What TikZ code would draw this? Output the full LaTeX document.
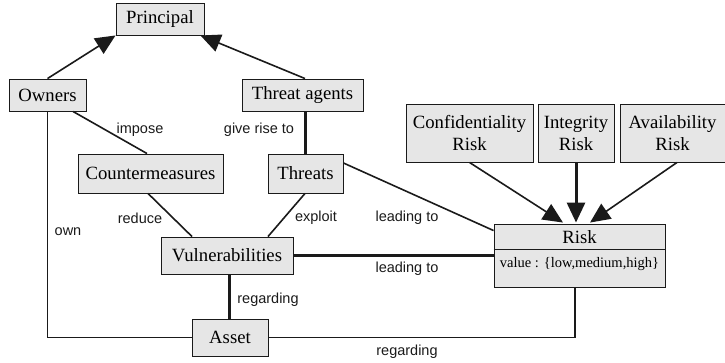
\documentclass[tikz,border=0pt]{standalone}
\usepackage{fontspec}
\setmainfont{Liberation Serif}
\newfontfamily\entfont{Liberation Serif}
\newfontfamily\labfont{Liberation Sans}
\usetikzlibrary{arrows.meta,calc}
\definecolor{boxfill}{HTML}{E6E6E6}
\definecolor{ink}{HTML}{1A1A1A}
\tikzset{
  ent/.style={draw=ink,fill=boxfill,line width=0.9pt,inner sep=0pt,align=center,
    font=\entfont\fontsize{18.7}{22}\selectfont},
  lab/.style={font=\labfont\fontsize{14.5}{16}\selectfont,inner sep=0pt,text=ink},
  conn/.style={draw=ink,line width=1.6pt},
  thick conn/.style={draw=ink,line width=3pt},
  tip/.style={-{Triangle[length=20pt,width=18pt]}}
}
\begin{document}
\begin{tikzpicture}[x=1pt,y=-1pt]
\useasboundingbox (0,0) rectangle (725,363);
% entities
\node[ent,minimum width=88pt,minimum height=32pt] (principal) at (160,19) {Principal};
\node[ent,minimum width=77pt,minimum height=32pt] (owners) at (47.5,95) {Owners};
\node[ent,minimum width=121pt,minimum height=32pt] (tagents) at (302.5,95) {Threat agents};
\node[ent,minimum width=145pt,minimum height=39pt] (counter) at (150.5,173.5) {Countermeasures};
\node[ent,minimum width=75pt,minimum height=39pt] (threats) at (305.5,173.5) {Threats};
\node[ent,minimum width=132pt,minimum height=37pt] (vulns) at (227,255.5) {Vulnerabilities};
\node[ent,minimum width=76pt,minimum height=37pt] (asset) at (230,337.5) {Asset};
\node[ent,minimum width=127pt,minimum height=58pt] (conf) at (469.5,133) {Confidentiality\\Risk};
\node[ent,minimum width=76pt,minimum height=58pt] (integ) at (576,133) {Integrity\\Risk};
\node[ent,minimum width=105pt,minimum height=58pt] (avail) at (672.5,133) {Availability\\Risk};
\node[ent,minimum width=171pt,minimum height=63pt] (risk) at (579.5,255.5) {};
\draw[draw=ink,line width=0.9pt] (risk.west |- 0,249) -- (risk.east |- 0,249);
\node[font=\entfont\fontsize{18.7}{22}\selectfont,inner sep=0pt] (risktitle) at (579.5,237) {Risk};
\node[font=\entfont\fontsize{14.5}{16}\selectfont,inner sep=0pt] (riskvalue) at (579.5,264) {value : \{low,medium,high\}};
% connectors to principal
\draw[conn,tip] (owners.north) -- (principal.south west);
\draw[conn,tip] ($(tagents.north)+(2.5,0)$) -- ($(principal.south east)+(-4,0)$);
% middle connectors
\draw[conn] ($(owners.south)+(25.5,0)$) -- ($(counter.north)+(-3.5,0)$);
\draw[thick conn] ($(tagents.south)+(2.5,0)$) -- ($(threats.north)+(-0.5,0)$);
\draw[conn] ($(counter.south)+(-2.5,0)$) -- ($(vulns.north)+(-35,0)$);
\draw[conn] ($(threats.south)+(-0.5,0)$) -- ($(vulns.north)+(41,0)$);
\draw[thick conn] ($(vulns.south)+(2,0)$) -- ($(asset.north)+(-1,0)$);
\draw[conn] (owners.south) -- (owners.south |- asset.west) -- (asset.west);
\coordinate (rbot) at (575,287);
\draw[conn] (asset.east) -- (rbot |- asset.east) -- (rbot);
\draw[thick conn] (vulns.east) -- (risk.west);
\draw[conn] ($(threats.east)+(0,-10.5)$) -- ($(risk.north west)+(0,7)$);
% risk arrows
\draw[conn,tip] (conf.south) -- ($(risk.north)+(-16.5,-1)$);
\draw[thick conn,tip] (integ.south) -- ($(risk.north)+(-3.5,-1)$);
\draw[conn,tip] ($(avail.south)+(4.5,0)$) -- ($(risk.north)+(10.5,-1)$);
% labels
\node[lab] (limpose) at (140,130) {impose};
\node[lab] (lgive) at (259,130) {give rise to};
\node[lab] (lreduce) at (140,218) {reduce};
\node[lab] (lexploit) at (316,218) {exploit};
\node[lab] (lown) at (68,232) {own};
\node[lab] (lreg1) at (268,300) {regarding};
\node[lab] (llead1) at (407,218) {leading to};
\node[lab] (llead2) at (407,269) {leading to};
\node[lab] (lreg2) at (407,352) {regarding};
\end{tikzpicture}
\end{document}
